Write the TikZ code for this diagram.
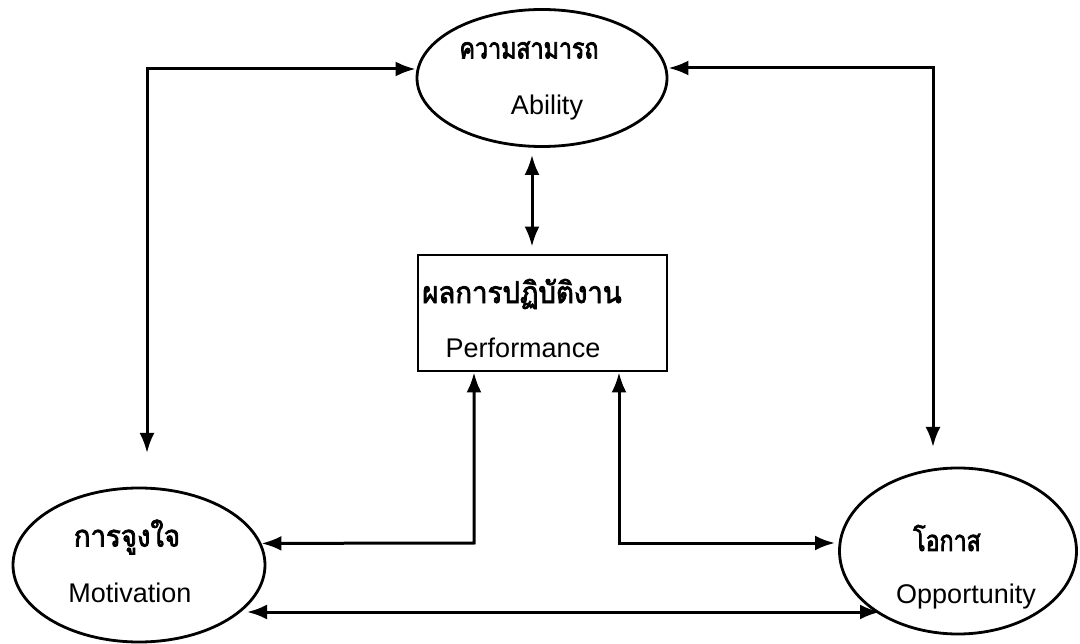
\documentclass[tikz,border=0pt]{standalone}
\usepackage{fontspec}
\setmainfont{Liberation Sans}
\newfontfamily\thaifont[Script=Thai,FakeBold=2.5,FakeStretch=0.8]{Loma}
\newfontfamily\thaiwide[Script=Thai,FakeBold=2.5,FakeStretch=0.92]{Loma}
\usetikzlibrary{shapes.geometric,arrows.meta}
\begin{document}
\begin{tikzpicture}[x=1pt,y=-1pt,
  shp/.style={draw, line width=2.8pt, inner sep=0pt},
  ell/.style={shp, ellipse},
  th/.style={font=\fontsize{29}{32}\selectfont\thaifont, inner sep=0pt},
  thw/.style={font=\fontsize{30}{32}\selectfont\thaiwide, inner sep=0pt},
  en/.style={font=\fontsize{27}{30}\selectfont, inner sep=0pt},
  dlink/.style={line width=3pt, {Latex[length=20pt,width=15pt]}-{Latex[length=20pt,width=15pt]}}]
\useasboundingbox (0,0) rectangle (1080,644);
\fill[white] (0,0) rectangle (1080,644);
% shapes
\node[ell, minimum width=250pt, minimum height=137pt] (abil) at (542,78) {};
\node[shp, minimum width=249pt, minimum height=116pt] (perf) at (542.5,313) {};
\node[ell, minimum width=252pt, minimum height=154pt] (mot) at (139,565) {};
\node[ell, minimum width=237pt, minimum height=166pt] (opp) at (958,551) {};
% texts
\node[th] (abilth) at (529,50) {ความสามารถ};
\node[en] (abilen) at (547,108) {Ability};
\node[thw] (perfth) at (522,294) {ผลการปฏิบัติงาน};
\node[en] (perfen) at (523,348) {Performance};
\node[thw] (motth) at (127,537) {การจูงใจ};
\node[en] (moten) at (130,593) {Motivation};
\node[th] (oppth) at (947,538) {โอกาส};
\node[en] (oppen) at (966,597) {Opportunity};
% connectors
\coordinate (tl) at (147,69);
\coordinate (lb) at (147,453);
\draw[dlink] (lb) -- (tl) -- (abil.west |- tl);
\coordinate (tr) at (933,68);
\coordinate (rb) at (933,447);
\draw[dlink] (rb) -- (tr) -- (abil.east |- tr);
\draw[dlink] ([shift={(-10pt,-7pt)}]abil.south) -- ([shift={(-10.5pt,7pt)}]perf.south |- perf.north);
\coordinate (bl) at (474,543);
\draw[dlink] (perf.south -| bl) -- (bl) -- (mot.10);
\coordinate (br) at (619,543);
\coordinate (bre) at (835,543);
\draw[dlink] (perf.south -| br) -- (br) -- (bre);
\coordinate (bm) at (247,612);
\coordinate (bo) at (880,612);
\draw[dlink] (bm) -- (bo);
\end{tikzpicture}
\end{document}
